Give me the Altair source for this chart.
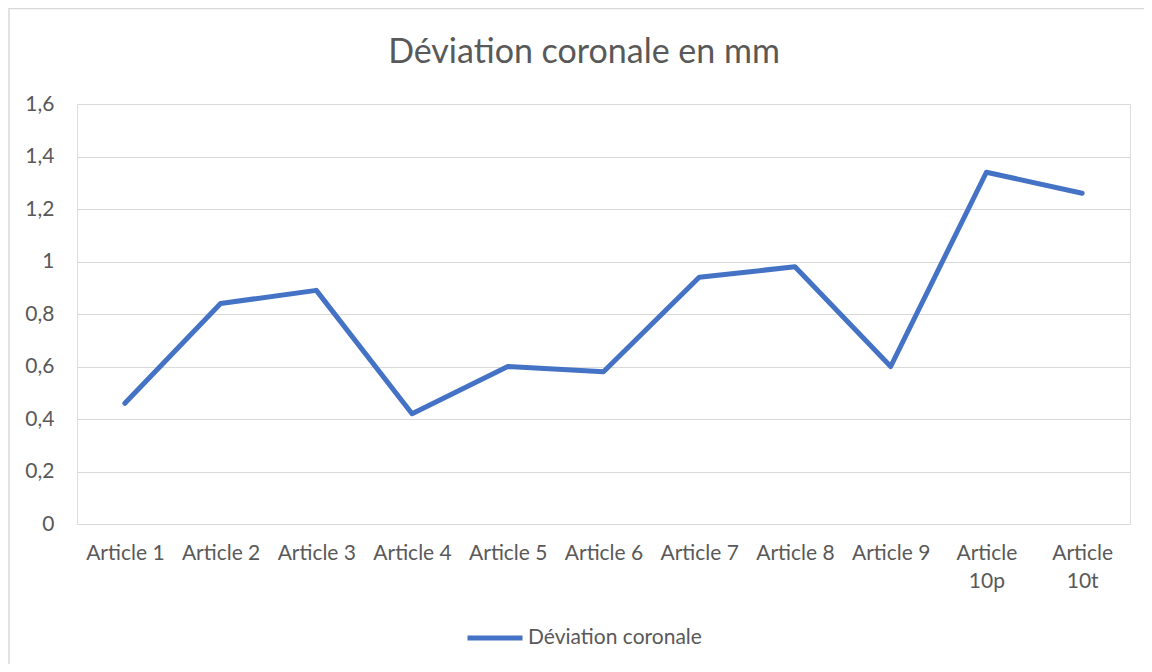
import altair as alt
import pandas as pd

categories = ["Article 1", "Article 2", "Article 3", "Article 4", "Article 5",
              "Article 6", "Article 7", "Article 8", "Article 9", "Article 10p", "Article 10t"]
values = [0.46, 0.84, 0.89, 0.42, 0.60, 0.58, 0.94, 0.98, 0.60, 1.34, 1.26]
series_name = "Déviation coronale"
y_ticks = [0, 0.2, 0.4, 0.6, 0.8, 1.0, 1.2, 1.4, 1.6]

df = pd.DataFrame({"article": categories, "value": values, "series": [series_name] * len(categories)})

TEXT = "#595959"
GRID = "#d9d9d9"
FONT = "Lato"

frame_left = alt.Chart(alt.Data(values=[{}])).mark_rule(stroke=GRID, strokeWidth=1.5).encode(
    x=alt.value(-68), y=alt.value(-96), y2=alt.value(700)
)
frame_top = alt.Chart(alt.Data(values=[{}])).mark_rule(stroke=GRID, strokeWidth=1.5).encode(
    x=alt.value(-68), x2=alt.value(1200), y=alt.value(-95.5)
)

line = alt.Chart(df).mark_line(strokeWidth=5, strokeJoin="round", strokeCap="round").encode(
    x=alt.X(
        "article:N", sort=categories,
        scale=alt.Scale(type="point", padding=0.5),
        axis=alt.Axis(
            title=None, labelAngle=0, ticks=False, grid=False,
            domain=True, domainColor=GRID, domainWidth=1,
            labelExpr="length(datum.label) > 9 ? split(datum.label, ' ') : datum.label",
            labelFontSize=21, labelColor=TEXT, labelFont=FONT, labelPadding=18,
            labelLineHeight=28, labelBaseline="top",
        ),
    ),
    y=alt.Y(
        "value:Q",
        scale=alt.Scale(domain=[0, 1.6], nice=False),
        axis=alt.Axis(
            values=y_ticks, title=None, domain=False, ticks=False,
            gridColor=GRID, gridWidth=1,
            labelExpr="replace(format(datum.value, '.1~f'), '.', ',')",
            labelFontSize=21, labelColor=TEXT, labelFont=FONT, labelPadding=23,
        ),
    ),
    color=alt.Color(
        "series:N",
        scale=alt.Scale(range=["#4472C4"]),
        legend=alt.Legend(
            title=None, orient="none", legendX=388, legendY=504,
            symbolType="stroke", symbolSize=3025, symbolStrokeWidth=5,
            labelFontSize=21, labelColor=TEXT, labelFont=FONT, labelOffset=3,
            labelLimit=0,
        ),
    ),
)

chart = alt.layer(frame_left, frame_top, line).properties(
    width=1053, height=420,
    autosize=alt.AutoSizeParams(type="none"),
    padding={"left": 69, "top": 96, "right": 14, "bottom": 140},
    title=alt.TitleParams(
        "Déviation coronale en mm", fontSize=34, font=FONT, fontWeight="normal",
        color=TEXT, anchor="middle", offset=-63, dx=-19.5,
    ),
).configure_view(stroke=None).configure(background="white")

chart.save("out.html", embed_options={"renderer": "svg", "actions": False})
